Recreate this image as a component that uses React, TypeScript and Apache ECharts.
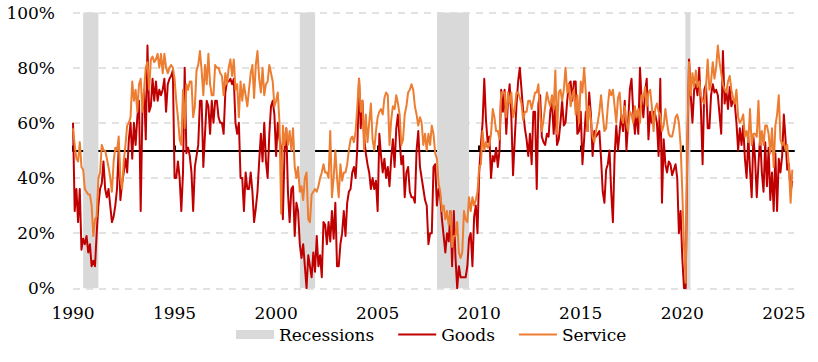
import React, { useEffect, useRef } from "react";
import * as echarts from "echarts";

const START_YEAR = 1990;

// Monthly diffusion index values (%) from Jan 1990
const goods: number[] = [
  60, 28, 36, 24, 36, 14, 18, 16, 19, 13, 16, 8,
  10, 8, 20, 30, 36, 38, 46, 36, 33, 36, 30, 24,
  26, 30, 36, 51, 32, 38, 42, 47, 42, 54, 60, 47,
  60, 52, 62, 68, 28, 64, 72, 54, 88, 64, 66, 76,
  68, 75, 68, 72, 70, 72, 76, 64, 74, 76, 77, 79,
  40, 40, 46, 40, 28, 42, 80, 49, 51, 48, 42, 28,
  44, 48, 52, 68, 68, 44, 56, 68, 66, 56, 68, 60,
  68, 68, 62, 60, 60, 56, 71, 75, 75, 76, 74, 76,
  60, 56, 60, 40, 40, 28, 42, 36, 36, 42, 35, 24,
  29, 35, 46, 56, 46, 60, 46, 40, 56, 66, 68, 63,
  48, 60, 54, 51, 25, 50, 58, 35, 24, 36, 37, 19,
  31, 28, 16, 11, 16, 8, 0, 12, 8, 4, 13, 6,
  19, 8, 12, 4, 24, 23, 16, 24, 17, 28, 18, 31,
  8, 8, 16, 20, 28, 19, 31, 35, 36, 42, 44, 40,
  51, 76, 58, 68, 55, 49, 45, 42, 36, 40, 36, 39,
  28, 56, 48, 42, 47, 40, 44, 37, 47, 54, 44, 58,
  63, 54, 45, 48, 33, 42, 44, 35, 33, 33, 31, 50,
  57, 44, 40, 36, 32, 30, 16, 20, 20, 44, 45, 30,
  36, 33, 25, 19, 13, 20, 17, 28, 8, 28, 11, 0,
  8, 4, 4, 4, 4, 8, 18, 20, 8, 26, 30, 20,
  42, 52, 60, 76, 61, 53, 55, 40, 48, 46, 51, 44,
  50, 72, 64, 72, 56, 68, 74, 62, 41, 54, 66, 75,
  80, 72, 64, 58, 54, 48, 56, 45, 64, 64, 36, 67,
  70, 55, 53, 52, 56, 55, 64, 68, 56, 66, 52, 54,
  60, 68, 59, 60, 68, 74, 75, 68, 75, 75, 56, 57,
  64, 45, 54, 64, 57, 71, 63, 48, 57, 55, 56, 57,
  47, 35, 31, 43, 45, 50, 35, 24, 48, 59, 50, 57,
  63, 57, 68, 50, 60, 72, 76, 64, 56, 64, 56, 80,
  68, 62, 71, 76, 54, 64, 60, 64, 63, 60, 48, 76,
  31, 54, 45, 42, 46, 45, 41, 43, 45, 40, 20, 28,
  11, 0, 0, 50, 83, 70, 60, 72, 74, 70, 80, 65,
  45, 72, 74, 58, 58, 70, 74, 71, 72, 70, 63, 56,
  86, 67, 72, 65, 73, 66, 68, 67, 60, 50, 58, 52,
  59, 47, 40, 55, 43, 33, 55, 47, 33, 45, 55, 42,
  35, 53, 37, 51, 32, 42, 28, 49, 28, 47, 42, 48,
  63, 54, 43, 45, 35, 39,
];

const service: number[] = [
  58, 52, 47, 46, 53, 44, 43, 36, 35, 34, 34, 30,
  19, 25, 26, 40, 42, 52, 50, 50, 47, 44, 40, 35,
  46, 51, 50, 55, 40, 36, 46, 52, 59, 60, 62, 75,
  68, 72, 64, 74, 76, 64, 72, 80, 82, 72, 83, 84,
  82, 83, 85, 80, 85, 78, 85, 80, 78, 80, 81, 80,
  76, 68, 62, 54, 52, 72, 58, 74, 72, 75, 75, 62,
  66, 79, 81, 86, 79, 70, 81, 74, 85, 74, 70, 70,
  81, 80, 80, 78, 77, 70, 78, 74, 80, 83, 77, 83,
  72, 74, 62, 75, 68, 74, 70, 66, 72, 78, 81, 69,
  81, 86, 76, 71, 80, 70, 74, 75, 81, 78, 75, 66,
  68, 71, 60, 27, 59, 52, 58, 52, 57, 50, 58, 44,
  40, 44, 35, 37, 32, 40, 42, 25, 24, 34, 35, 36,
  35, 37, 40, 42, 45, 42, 42, 40, 57, 33, 40, 50,
  40, 33, 45, 39, 42, 42, 45, 50, 54, 55, 53, 57,
  66, 76, 64, 68, 50, 63, 53, 60, 67, 54, 50, 57,
  62, 64, 65, 63, 69, 71, 70, 52, 61, 66, 65, 70,
  67, 63, 52, 54, 63, 66, 71, 72, 74, 72, 66, 63,
  59, 62, 60, 52, 56, 50, 56, 52, 59, 56, 49, 47,
  38, 35, 28, 30, 25, 28, 23, 28, 15, 19, 19, 24,
  13, 11, 13, 28, 25, 24, 33, 28, 33, 30, 32, 35,
  44, 45, 57, 50, 53, 51, 52, 56, 65, 62, 57, 57,
  54, 71, 71, 71, 62, 71, 67, 71, 62, 65, 71, 71,
  69, 67, 61, 64, 64, 68, 68, 65, 68, 71, 71, 74,
  63, 57, 61, 66, 71, 68, 66, 70, 65, 79, 56, 71,
  72, 68, 72, 80, 71, 74, 66, 70, 72, 63, 70, 60,
  75, 71, 80, 71, 57, 66, 61, 55, 53, 57, 60, 64,
  70, 63, 57, 58, 66, 72, 70, 72, 66, 60, 69, 71,
  62, 60, 66, 60, 57, 64, 63, 60, 66, 62, 65, 60,
  70, 69, 73, 66, 71, 72, 66, 57, 65, 67, 64, 63,
  57, 59, 65, 60, 56, 55, 55, 58, 62, 63, 60, 52,
  35, 16, 2, 55, 82, 70, 78, 73, 79, 73, 75, 70,
  68, 67, 73, 83, 72, 75, 82, 76, 80, 88, 82, 78,
  74, 72, 71, 75, 77, 72, 69, 67, 72, 62, 60, 61,
  63, 55, 57, 53, 65, 52, 56, 56, 55, 68, 52, 57,
  52, 59, 59, 56, 49, 58, 44, 59, 63, 70, 54, 52,
  53, 50, 52, 44, 31, 43,
];

// Recession periods (decimal years: start, end)
const recessions: [number, number][] = [
  [1990.5, 1991.25],
  [2001.17, 2001.92],
  [2007.92, 2009.5],
  [2020.15, 2020.4],
];

const xTickYears = [1990, 1995, 2000, 2005, 2010, 2015, 2020, 2025];
const yTicks = [0, 20, 40, 60, 80, 100];

const toPoints = (arr: number[]) =>
  arr.map((v, i) => [START_YEAR + i / 12, v]);

const FONT = "DejaVu Serif";
const LINE_ICON = "path://M0,0L38,0L38,2L0,2Z";

export default function App() {
  const ref = useRef<HTMLDivElement>(null);

  useEffect(() => {
    if (!ref.current) return;
    const chart = echarts.init(ref.current, undefined, { renderer: "svg" });
    const xMin = xTickYears[0];
    const xMax = 2025.5;
    chart.setOption({
      animation: false,
      textStyle: { fontFamily: FONT },
      grid: { left: 73, right: 24, top: 12.5, bottom: 73.7 },
      legend: {
        left: 236,
        top: 326,
        padding: 0,
        itemWidth: 38,
        itemHeight: 9,
        itemGap: 24,
        symbolKeepAspect: true,
        textStyle: { fontFamily: FONT, fontSize: 17, color: "#000" },
        data: [
          { name: "Recessions", icon: "rect", itemStyle: { color: "#D9D9D9" } },
          { name: "Goods", icon: LINE_ICON, itemStyle: { color: "#C00000" } },
          { name: "Service", icon: LINE_ICON, itemStyle: { color: "#ED7D31" } },
        ],
      },
      xAxis: [
        {
          type: "value",
          min: xMin,
          max: xMax,
          interval: 5,
          axisLine: { show: false },
          axisTick: { show: false },
          splitLine: { show: false },
          axisLabel: {
            customValues: xTickYears,
            formatter: (v: number) => String(Math.round(v)),
            fontFamily: FONT,
            fontSize: 17,
            color: "#000",
            margin: 16,
          },
        },
        {
          type: "value",
          min: xMin,
          max: xMax,
          interval: 5,
          offset: -137.9,
          axisLine: { show: true, lineStyle: { color: "#000", width: 2 } },
          axisTick: {
            show: true,
            customValues: xTickYears,
            length: 5,
            lineStyle: { color: "#000", width: 2 },
          },
          axisLabel: { show: false },
          splitLine: { show: false },
        },
      ],
      yAxis: {
        type: "value",
        min: yTicks[0],
        max: yTicks[yTicks.length - 1],
        interval: 20,
        axisLine: { show: false },
        axisTick: { show: false },
        axisLabel: {
          formatter: "{value}%",
          fontFamily: FONT,
          fontSize: 17,
          color: "#000",
          margin: 18,
        },
        splitLine: {
          lineStyle: { color: "#D9D9D9", type: [7, 6], width: 1.5 },
        },
      },
      series: [
        {
          name: "Recessions",
          type: "line",
          data: [],
          color: "#D9D9D9",
          symbol: "none",
          markArea: {
            silent: true,
            itemStyle: { color: "#D9D9D9", opacity: 1 },
            data: recessions.map(([s, e]) => [{ xAxis: s }, { xAxis: e }]),
          },
        },
        {
          name: "Goods",
          type: "line",
          data: toPoints(goods),
          symbol: "none",
          color: "#C00000",
          lineStyle: { color: "#C00000", width: 2, join: "round" },
        },
        {
          name: "Service",
          type: "line",
          data: toPoints(service),
          symbol: "none",
          color: "#ED7D31",
          lineStyle: { color: "#ED7D31", width: 2, join: "round" },
        },
      ],
    });
    return () => chart.dispose();
  }, []);

  return (
    <div
      ref={ref}
      style={{ position: "fixed", left: 0, top: 0, width: 818, height: 362, background: "#fff" }}
    />
  );
}
